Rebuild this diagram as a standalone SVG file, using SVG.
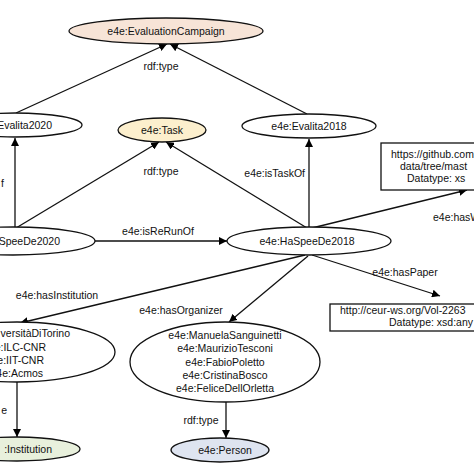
<svg xmlns="http://www.w3.org/2000/svg" width="474" height="474" viewBox="0 0 474 474">
<defs>
<marker id="arr" viewBox="0 0 10 10" refX="10" refY="5" markerWidth="8" markerHeight="8" markerUnits="userSpaceOnUse" orient="auto">
<path d="M0,0 L10,5 L0,10 z" fill="#000"/>
</marker>
<style>
text{font-family:"Liberation Sans",Arial,sans-serif;font-size:10.5px;fill:#111}
.n{stroke:#111;stroke-width:1.3}
.w{fill:#fff}
.c line{stroke:#111;stroke-width:1.3;marker-end:url(#arr)}
.m{text-anchor:middle}
.e{text-anchor:end}
</style>
</defs>
<rect width="474" height="474" fill="#fff"/>
<g class="c" id="connectors">
<line x1="16" y1="113" x2="167" y2="44"/>
<line x1="307" y1="114" x2="170" y2="44"/>
<line x1="15" y1="227" x2="15" y2="138"/>
<line x1="309" y1="227" x2="309" y2="139"/>
<line x1="16" y1="228" x2="159" y2="142"/>
<line x1="307" y1="228" x2="166" y2="142"/>
<line x1="95" y1="241" x2="227" y2="241"/>
<line x1="312" y1="228" x2="467" y2="190"/>
<line x1="312" y1="255" x2="440" y2="296"/>
<line x1="305" y1="255" x2="20" y2="323"/>
<line x1="308" y1="256" x2="229" y2="322"/>
<line x1="17" y1="382" x2="17" y2="437"/>
<line x1="226" y1="402" x2="226" y2="438"/>
<text class="m" x="161" y="70">rdf:type</text>
<text class="m" x="161" y="175">rdf:type</text>
<text class="e" x="305" y="177">e4e:isTaskOf</text>
<text class="e" x="4" y="187">f</text>
<text class="m" x="158" y="235">e4e:isReRunOf</text>
<text x="433" y="221">e4e:hasWe</text>
<text class="m" x="405" y="276">e4e:hasPaper</text>
<text class="m" x="57" y="299">e4e:hasInstitution</text>
<text class="m" x="181" y="314">e4e:hasOrganizer</text>
<text class="e" x="7" y="414">e</text>
<text class="m" x="201" y="424">rdf:type</text>
</g>
<g id="evaluationCampaign">
<ellipse class="n" cx="166" cy="31" rx="97" ry="13" fill="#f7e4d7"/>
<text class="m" x="166" y="35">e4e:EvaluationCampaign</text>
</g>
<g id="evalita2020">
<ellipse class="n w" cx="15" cy="125" rx="67" ry="12"/>
<text class="e" x="52" y="129">Evalita2020</text>
</g>
<g id="task">
<ellipse class="n" cx="162" cy="130" rx="44" ry="12" fill="#fcefcd"/>
<text class="m" x="162" y="134">e4e:Task</text>
</g>
<g id="evalita2018">
<ellipse class="n w" cx="309" cy="126" rx="67" ry="12"/>
<text class="m" x="309" y="130">e4e:Evalita2018</text>
</g>
<g id="github">
<rect class="n w" x="381" y="143" width="120" height="47"/>
<text x="391" y="158">https://github.com</text>
<text x="400" y="170">data/tree/mast</text>
<text x="407" y="182">Datatype: xs</text>
</g>
<g id="haspeede2020">
<ellipse class="n w" cx="13" cy="241" rx="82" ry="14"/>
<text class="e" x="60" y="245">SpeeDe2020</text>
</g>
<g id="haspeede2018">
<ellipse class="n w" cx="309" cy="241" rx="82" ry="14"/>
<text class="m" x="307" y="245">e4e:HaSpeeDe2018</text>
</g>
<g id="paper">
<rect class="n w" x="330" y="304" width="160" height="27"/>
<text x="340" y="314">http://ceur-ws.org/Vol-2263</text>
<text x="389" y="326">Datatype: xsd:any</text>
</g>
<g id="institutions">
<ellipse class="n w" cx="17" cy="352" rx="98" ry="30"/>
<text class="e" x="70" y="337">versitàDiTorino</text>
<text class="e" x="46" y="351">e:ILC-CNR</text>
<text class="e" x="44" y="364">e:IIT-CNR</text>
<text class="e" x="43" y="377">4e:Acmos</text>
</g>
<g id="organizers">
<ellipse class="n w" cx="225" cy="362" rx="95" ry="40"/>
<text class="m" x="225" y="339">e4e:ManuelaSanguinetti</text>
<text class="m" x="225" y="352">e4e:MaurizioTesconi</text>
<text class="m" x="225" y="366">e4e:FabioPoletto</text>
<text class="m" x="225" y="379">e4e:CristinaBosco</text>
<text class="m" x="225" y="392">e4e:FeliceDellOrletta</text>
</g>
<g id="institution">
<ellipse class="n" cx="17" cy="449" rx="63" ry="12" fill="#e8f0dc"/>
<text class="e" x="52" y="453">:Institution</text>
</g>
<g id="person">
<ellipse class="n" cx="220" cy="450" rx="49" ry="12" fill="#dee4f0"/>
<text class="m" x="225" y="454">e4e:Person</text>
</g>
</svg>
